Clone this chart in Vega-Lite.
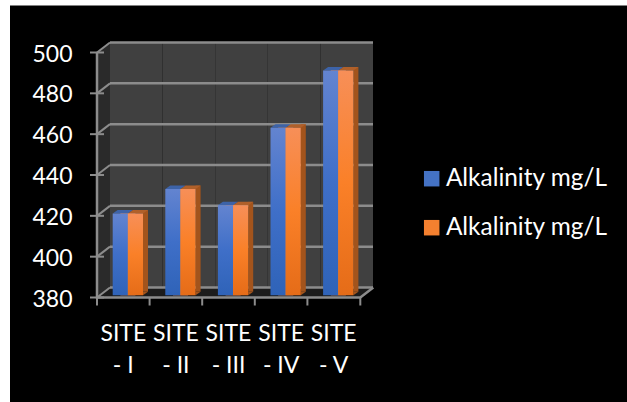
{
"$schema":"https://vega.github.io/schema/vega-lite/v6.json",
"width":263,"height":245,
"autosize":"none",
"padding":{"left":97,"top":52.5,"right":267,"bottom":104.5},
"background":"#000000",
"datasets":{
"bars":[
{"site":"SITE - I","value":420,"series":"A"},{"site":"SITE - II","value":432,"series":"A"},{"site":"SITE - III","value":424,"series":"A"},{"site":"SITE - IV","value":462,"series":"A"},{"site":"SITE - V","value":490,"series":"A"},
{"site":"SITE - I","value":420,"series":"B"},{"site":"SITE - II","value":432,"series":"B"},{"site":"SITE - III","value":424,"series":"B"},{"site":"SITE - IV","value":462,"series":"B"},{"site":"SITE - V","value":490,"series":"B"}],
"grid":[{"v":380},{"v":400},{"v":420},{"v":440},{"v":460},{"v":480},{"v":500}],
"sites":[{"site":"SITE - I"},{"site":"SITE - II"},{"site":"SITE - III"},{"site":"SITE - IV"},{"site":"SITE - V"}],
"anchor":[{"site":"SITE - I","v":380}]
},
"encoding":{
"x":{"field":"site","type":"nominal","sort":null,"scale":{"paddingInner":0,"paddingOuter":0},
"axis":{"title":null,"domain":false,"ticks":false,"labelAngle":0,"labelFont":"Lato","labelFontSize":23,"labelColor":"#ffffff","labelPadding":25,"labelLineHeight":32,"labelAlign":"center","labelBaseline":"top","labelLimit":0,"labelExpr":"[slice(datum.label,0,4),slice(datum.label,5)]","grid":false,"zindex":1}}
},
"layer":[
{"data":{"name":"sites"},"mark":{"type":"bar","color":"#404040","xOffset":13,"x2Offset":13,"yOffset":-10,"y2Offset":-10,"width":{"band":1}},
 "encoding":{"y":{"datum":500,"type":"quantitative","scale":{"domain":[380,500]},"axis":{"title":null,"values":[380,400,420,440,460,480,500],"grid":false,"domain":false,"ticks":false,"labelFont":"Lato","labelFontSize":23,"labelColor":"#ffffff","labelPadding":25,"labelOffset":1.5,"zindex":1}},"y2":{"datum":380}}},
{"data":{"name":"anchor"},"mark":{"type":"point","filled":true,"size":4,"opacity":1,"fill":"#2a2a2a","stroke":null,"shape":"M-26.3,0L-13.3,-10L-13.3,-255L-26.3,-245Z"},"encoding":{"y":{"field":"v","type":"quantitative"}}},
{"data":{"name":"anchor"},"mark":{"type":"point","filled":true,"size":4,"opacity":1,"fill":"#1c1c1c","stroke":null,"shape":"M-26.3,0L-13.3,-10L250,-10L237,0Z"},"encoding":{"y":{"field":"v","type":"quantitative"}}},
{"data":{"name":"grid"},"mark":{"type":"rule","color":"#8c8c8c","strokeWidth":2.5,"xOffset":13,"x2Offset":13,"yOffset":-10},"encoding":{"x":{"value":0},"x2":{"value":263},"y":{"field":"v","type":"quantitative"}}},
{"data":{"name":"grid"},"mark":{"type":"rule","color":"#8c8c8c","strokeWidth":2,"xOffset":-7},"encoding":{"x":{"value":0},"x2":{"value":7},"y":{"field":"v","type":"quantitative"}}},
{"data":{"name":"grid"},"mark":{"type":"point","size":4,"opacity":1,"filled":false,"stroke":"#8c8c8c","strokeWidth":2,"shape":"M-26.3,0L-13.3,-10"},"encoding":{"x":{"datum":"SITE - I"},"y":{"field":"v","type":"quantitative"}}},
{"data":{"name":"anchor"},"mark":{"type":"point","size":4,"opacity":1,"filled":false,"stroke":"#8c8c8c","strokeWidth":2.5,"shape":"M-26.3,-245L-26.3,0L237,0L250,-10"},"encoding":{"y":{"field":"v","type":"quantitative"}}},
{"data":{"name":"sites"},"mark":{"type":"point","size":4,"opacity":1,"filled":false,"stroke":"#8c8c8c","strokeWidth":2,"shape":"M-26.3,0L-26.3,8"},"encoding":{"y":{"datum":380}}},
{"data":{"name":"anchor"},"mark":{"type":"point","size":4,"opacity":1,"filled":false,"stroke":"#8c8c8c","strokeWidth":2,"shape":"M237,0L237,8"},"encoding":{"y":{"field":"v","type":"quantitative"}}},
{"data":{"name":"bars"},"transform":[{"filter":"datum.series=='B'"}],
 "mark":{"type":"bar","width":5,"color":"#a3541c","xOffset":22.2,"x2Offset":22.2,"yOffset":-5.8,"y2Offset":-5.8},"encoding":{"y":{"field":"value","type":"quantitative"},"y2":{"datum":380}}},
{"data":{"name":"bars"},"transform":[{"filter":"datum.series=='B'"}],
 "mark":{"type":"point","size":4,"opacity":1,"filled":true,"fill":"#a3541c","stroke":null,"shape":"M19.7,-2.3L24.7,-5.8L19.7,-5.8Z"},"encoding":{"y":{"datum":380}}},
{"data":{"name":"bars"},"transform":[{"filter":"datum.series=='A'"}],
 "mark":{"type":"point","size":4,"opacity":1,"filled":true,"fill":"#3d63a8","stroke":null,"shape":"M-10.6,-2.3L-5.6,-5.8L9.6,-5.8L4.6,-2.3Z"},"encoding":{"y":{"field":"value","type":"quantitative"}}},
{"data":{"name":"bars"},"transform":[{"filter":"datum.series=='B'"}],
 "mark":{"type":"point","size":4,"opacity":1,"filled":true,"fill":"#b0602a","stroke":null,"shape":"M4.6,-2.3L9.6,-5.8L24.7,-5.8L19.7,-2.3Z"},"encoding":{"y":{"field":"value","type":"quantitative"}}},
{"data":{"name":"bars"},
 "mark":{"type":"bar","width":15,"xOffset":4.6,"x2Offset":4.6,"yOffset":-2.3,"y2Offset":-2.3},
 "encoding":{
  "y":{"field":"value","type":"quantitative"},"y2":{"datum":380},
  "color":{"field":"series","type":"nominal","scale":{"domain":["A","B"],"range":["#4472c4","#f4802f"]},
   "legend":{"title":null,"orient":"none","legendX":322.5,"legendY":114,"symbolType":"square","symbolSize":240,"labelFont":"Lato","labelFontSize":24.4,"labelColor":"#ffffff","labelExpr":"'Alkalinity mg/L'","labelOffset":2,"rowPadding":24,"symbolStrokeWidth":0,"labelLimit":0}}
 }},
{"data":{"name":"bars"},"transform":[{"filter":"datum.series=='A'"}],
 "mark":{"type":"bar","width":15.2,"xOffset":-3,"x2Offset":-3,"yOffset":-2.3,"y2Offset":-2.3,
  "fill":{"gradient":"linear","x1":0,"y1":0,"x2":0,"y2":1,"stops":[{"offset":0,"color":"#6384d0"},{"offset":0.5,"color":"#3f6fc8"},{"offset":1,"color":"#2f63b8"}]}},
 "encoding":{"y":{"field":"value","type":"quantitative"},"y2":{"datum":380}}},
{"data":{"name":"bars"},"transform":[{"filter":"datum.series=='B'"}],
 "mark":{"type":"bar","width":15.1,"xOffset":12.15,"x2Offset":12.15,"yOffset":-2.3,"y2Offset":-2.3,
  "fill":{"gradient":"linear","x1":0,"y1":0,"x2":0,"y2":1,"stops":[{"offset":0,"color":"#f78f58"},{"offset":0.5,"color":"#fa8028"},{"offset":1,"color":"#e56c18"}]}},
 "encoding":{"y":{"field":"value","type":"quantitative"},"y2":{"datum":380}}},
{"data":{"name":"anchor"},"mark":{"type":"point","filled":true,"size":4,"opacity":1,"fill":"#ffffff","stroke":null,"shape":"M-124,-298L510,-298L510,-292L-113.3,-292L-113.3,110L-124,110Z"},"encoding":{"y":{"field":"v","type":"quantitative"}}}
],
"config":{"view":{"stroke":null}}
}
